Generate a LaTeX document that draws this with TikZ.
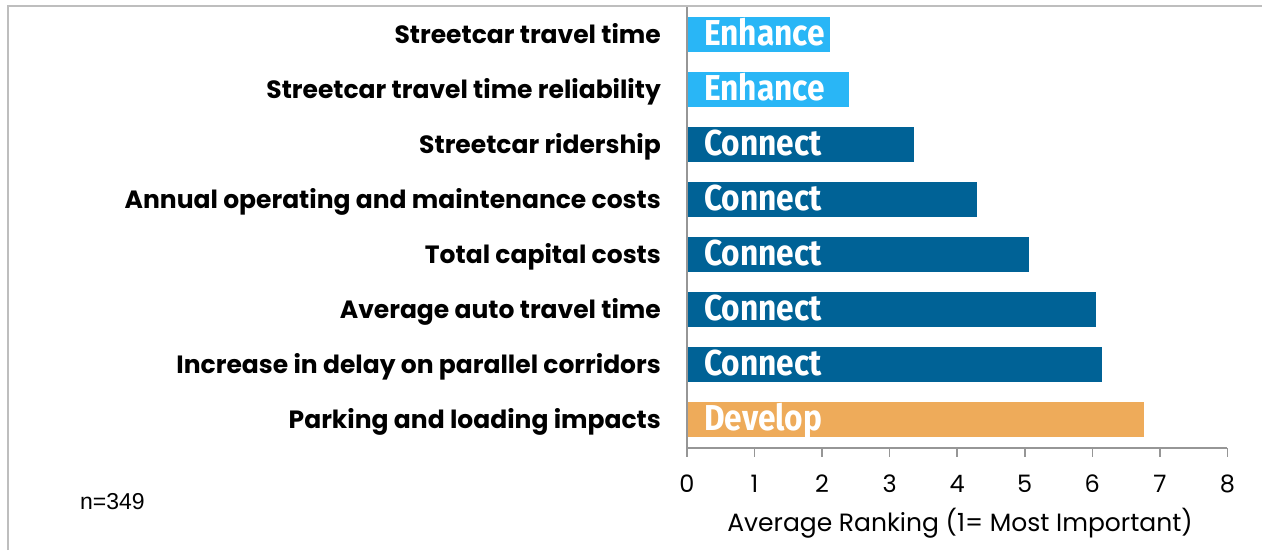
\documentclass[tikz,border=0pt]{standalone}
\usepackage{fontspec}
\setmainfont{Poppins}
\newfontfamily\barfont[FakeStretch=0.88]{Fira Sans}
\newfontfamily\notefont{Liberation Sans}
\definecolor{enhance}{RGB}{41,182,246}
\definecolor{connect}{RGB}{0,98,150}
\definecolor{develop}{RGB}{238,171,90}
\definecolor{framegray}{RGB}{190,190,190}
\definecolor{axisgray}{RGB}{150,150,150}
\tikzset{
  bar/.style={rectangle, inner sep=0pt, minimum height=35pt, anchor=west},
  bartext/.style={anchor=base west, inner sep=0pt, text=white, font=\barfont\bfseries\fontsize{36}{36}\selectfont},
  cat/.style={anchor=base east, inner sep=0pt, font=\bfseries\fontsize{25}{25}\selectfont},
  ticklabel/.style={anchor=base, inner sep=0pt, font=\fontsize{24}{24}\selectfont},
}

\begin{document}
\begin{tikzpicture}[x=1pt, y=-1pt]
    \useasboundingbox (0,0) rectangle (1262,550);
    \draw[framegray, line width=1.5pt] (8,550) -- (8,6) -- (1262,6);

    % bars
    \foreach \val/\col/\tag/\txt [count=\i] in {
        2.12/enhance/Enhance/Streetcar travel time,
        2.40/enhance/Enhance/Streetcar travel time reliability,
        3.36/connect/Connect/Streetcar ridership,
        4.29/connect/Connect/Annual operating and maintenance costs,
        5.06/connect/Connect/Total capital costs,
        6.05/connect/Connect/Average auto travel time,
        6.14/connect/Connect/Increase in delay on parallel corridors,
        6.76/develop/Develop/Parking and loading impacts} {
      \node[bar, fill=\col, minimum width={\val*67.55pt}] (b\i) at (687,{34.5+55*(\i-1)}) {};
      \node[bartext] (t\i) at ([xshift=17pt, yshift=-10.5pt]b\i.west) {\tag};
      \node[cat] (c\i) at (661,{43.5+55*(\i-1)}) {\txt};
    }

    % axis
    \coordinate (top) at (687,7);
    \coordinate (o) at (687,448);
    \coordinate (end) at (1227.4,448);
    \draw[axisgray, line width=1.5pt] (top) -- (o) -- (end);
    \foreach \k in {0,...,8} {
      \coordinate (k\k) at ({687+67.55*\k},448);
      \draw[axisgray, line width=1.5pt] (k\k) -- ++(0,9);
      \node[ticklabel] (n\k) at ([yshift=-44pt]k\k) {\k};
    }
    \node[font=\fontsize{25}{25}\selectfont, inner sep=0pt, anchor=base] (title) at (960,531) {Average Ranking (1= Most Important)};
    \node[font=\notefont\fontsize{23}{23}\selectfont, inner sep=0pt, anchor=base west] (n) at (80,509) {n=349};
\end{tikzpicture}
\end{document}
